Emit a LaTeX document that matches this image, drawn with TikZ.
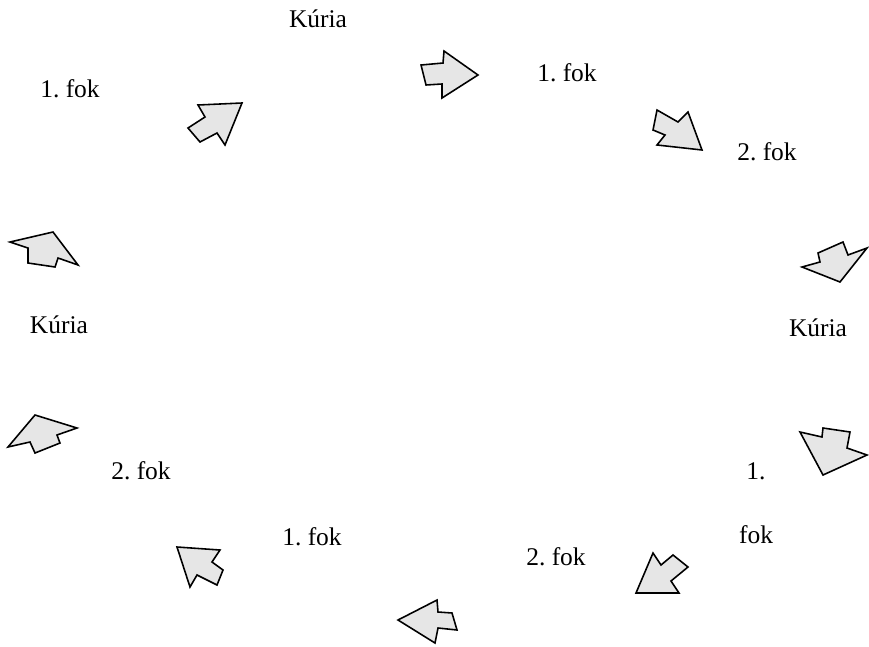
\documentclass[tikz,border=0pt]{standalone}
\usepackage{fontspec}
\setmainfont{Liberation Serif}
\frenchspacing
\definecolor{pfeilgrau}{RGB}{230,230,230}
\tikzset{
  pfeil/.style={draw=black,fill=pfeilgrau,line width=0.9pt,line join=miter},
  fokcim/.style={font=\fontsize{14.5}{17}\selectfont,inner sep=0pt}
}
\begin{document}
\begin{tikzpicture}[x=0.02cm,y=-0.02cm]
  \useasboundingbox (0,0) rectangle (869,646);

  % Feliratok
  \node[fokcim] (kuriaFent) at (318,19) {Kúria};
  \node[fokcim] (fokBalFent) at (70,89) {1. fok};
  \node[fokcim] (fokJobbFent) at (567,73) {1. fok};
  \node[fokcim] (fokJobb) at (767,152) {2. fok};
  \node[fokcim] (kuriaJobb) at (818,328) {Kúria};
  \node[fokcim] (kuriaBal) at (59,325) {Kúria};
  \node[fokcim] (fokBalLent) at (141,471) {2. fok};
  \node[fokcim] (egyJobbLent) at (756,471) {1.};
  \node[fokcim] (fokJobbLent) at (756,535) {fok};
  \node[fokcim] (fokLent) at (312,537) {1. fok};
  \node[fokcim] (fokLentJobb) at (556,557) {2. fok};

  % Nyilak
  \draw[pfeil] (421,65) -- (443,63) -- (444,51) -- (478,75) -- (442,98) -- (442,84) -- (426,85) -- cycle;
  \draw[pfeil] (657,110) -- (678,122) -- (688,112) -- (702,150) -- (657,145) -- (665,135) -- (653,130) -- cycle;
  \draw[pfeil] (802,267) -- (820,262) -- (818,253) -- (843,242) -- (848,255) -- (867,248) -- (840,282) -- cycle;
  \draw[pfeil] (800,432) -- (822,437) -- (823,428) -- (850,432) -- (847,448) -- (867,455) -- (823,475) -- cycle;
  \draw[pfeil] (653,553) -- (661,565) -- (673,555) -- (688,567) -- (671,581) -- (679,593) -- (636,593) -- cycle;
  \draw[pfeil] (398,620) -- (437,600) -- (438,612) -- (452,613) -- (457,630) -- (438,628) -- (435,643) -- cycle;
  \draw[pfeil] (177,547) -- (220,550) -- (212,562) -- (223,570) -- (217,585) -- (197,575) -- (190,587) -- cycle;
  \draw[pfeil] (8,447) -- (35,415) -- (77,428) -- (57,435) -- (60,443) -- (35,453) -- (30,442) -- cycle;
  \draw[pfeil] (10,242) -- (53,232) -- (78,265) -- (58,258) -- (55,267) -- (28,263) -- (28,248) -- cycle;
  \draw[pfeil] (188,128) -- (205,117) -- (198,105) -- (242,103) -- (225,145) -- (217,133) -- (200,142) -- cycle;

\end{tikzpicture}
\end{document}
